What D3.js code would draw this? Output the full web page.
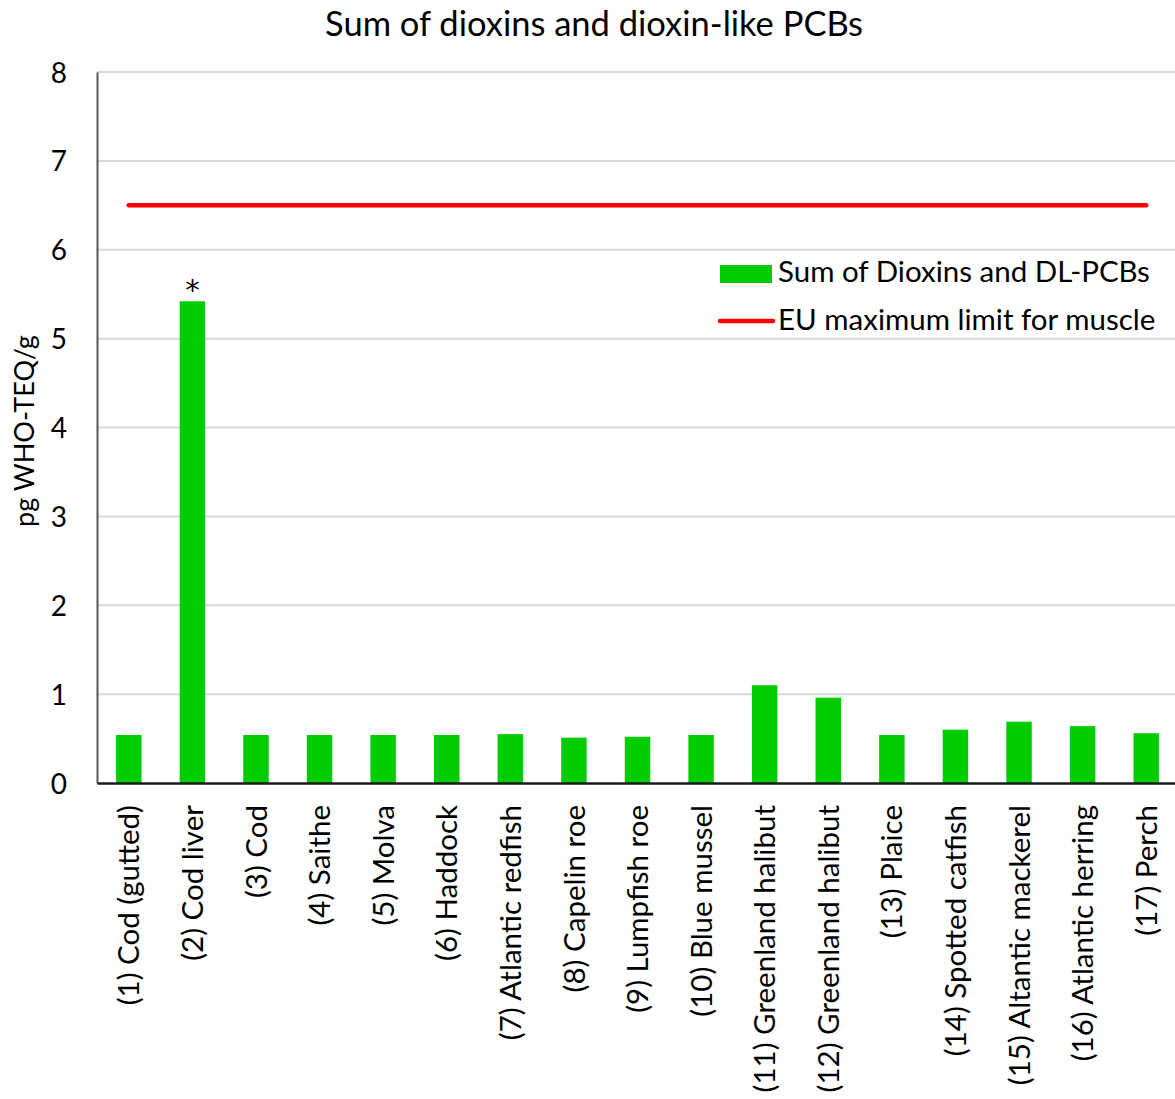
<!DOCTYPE html>
<html>
<head>
<meta charset="utf-8">
<script src="https://cdn.jsdelivr.net/npm/d3@7"></script>
<style>
  html, body { margin: 0; padding: 0; background: #fff; }
  svg { display: block; font-family: Lato, "Open Sans", sans-serif; }
</style>
</head>
<body>
<svg id="chart" width="1175" height="1099"></svg>
<script>
// Fish and seafood samples, in display order
const categories = [
  "(1) Cod (gutted)", "(2) Cod liver", "(3) Cod", "(4) Saithe", "(5) Molva",
  "(6) Haddock", "(7) Atlantic redfish", "(8) Capelin roe", "(9) Lumpfish roe",
  "(10) Blue mussel", "(11) Greenland halibut", "(12) Greenland halibut",
  "(13) Plaice", "(14) Spotted catfish", "(15) Altantic mackerel",
  "(16) Atlantic herring", "(17) Perch"
];
// Sum of dioxins and DL-PCBs, pg WHO-TEQ/g
const sumValues = [0.54, 5.42, 0.54, 0.54, 0.54, 0.54, 0.55, 0.51, 0.52,
                   0.54, 1.10, 0.96, 0.54, 0.60, 0.69, 0.64, 0.56];
// EU maximum limit for muscle meat of fish
const euLimit = 6.5;
const yTicks = [0, 1, 2, 3, 4, 5, 6, 7, 8];
const starred = ["(2) Cod liver"];
const seriesNames = ["Sum of Dioxins and DL-PCBs", "EU maximum limit for muscle"];

const FONT = "Lato, 'Open Sans', sans-serif";
const svg = d3.select("#chart");
const margin = { left: 97, right: -3, top: 72, bottom: 316 };
const W = 1175, H = 1099;

const x = d3.scaleBand()
  .domain(categories)
  .range([margin.left, W - margin.right])
  .paddingInner(0.6)
  .paddingOuter(0.3);

const y = d3.scaleLinear()
  .domain([0, 8])
  .range([H - margin.bottom, margin.top]);

// horizontal gridlines
svg.append("g")
  .selectAll("line")
  .data(yTicks.filter(d => d > 0))
  .join("line")
  .attr("x1", margin.left).attr("x2", W)
  .attr("y1", d => y(d)).attr("y2", d => y(d))
  .attr("stroke", "#d9d9d9").attr("stroke-width", 2);

// y axis
const yAxis = svg.append("g")
  .attr("transform", `translate(${margin.left},0)`)
  .call(d3.axisLeft(y).tickValues(yTicks).tickSize(0).tickPadding(30))
  .attr("font-family", FONT);
yAxis.select(".domain").attr("stroke", "#595959").attr("stroke-width", 2);
yAxis.selectAll("text")
  .attr("fill", "#000")
  .style("font-size", "28px")
  .attr("dy", "0.36em");

// bars
svg.append("g")
  .selectAll("rect")
  .data(categories.map((c, i) => ({ c, v: sumValues[i] })))
  .join("rect")
  .attr("x", d => x(d.c))
  .attr("width", x.bandwidth())
  .attr("y", d => y(d.v))
  .attr("height", d => y(0) - y(d.v))
  .attr("fill", "#00cc00");

// asterisk marking
svg.append("g")
  .selectAll("text")
  .data(starred)
  .join("text")
  .attr("x", d => x(d) + x.bandwidth() / 2)
  .attr("y", d => y(sumValues[categories.indexOf(d)]) - 1)
  .attr("text-anchor", "middle")
  .style("font-family", "'DejaVu Sans', sans-serif")
  .style("font-size", "29px")
  .text("*");

// x axis
const xAxis = svg.append("g")
  .attr("transform", `translate(0,${y(0)})`)
  .call(d3.axisBottom(x).tickSize(0).tickPadding(0))
  .attr("font-family", FONT);
xAxis.select(".domain").attr("stroke", "#1a1a1a").attr("stroke-width", 2.5);
xAxis.selectAll("text")
  .attr("fill", "#000")
  .style("font-size", "29.5px")
  .attr("text-anchor", "end")
  .attr("transform", "rotate(-90)")
  .attr("x", -22)
  .attr("y", 0)
  .attr("dy", "0.36em");

// EU limit line spanning the first to last category
const lineGen = d3.line().x(d => x(d) + x.bandwidth() / 2).y(() => y(euLimit));
svg.append("path")
  .datum([categories[0], categories[categories.length - 1]])
  .attr("d", lineGen)
  .attr("stroke", "#ff0000")
  .attr("stroke-width", 4.5)
  .attr("stroke-linecap", "round")
  .attr("fill", "none");

// title
svg.append("text")
  .attr("x", 594).attr("y", 36)
  .attr("text-anchor", "middle")
  .style("font-size", "34.5px")
  .text("Sum of dioxins and dioxin-like PCBs");

// y axis title
svg.append("text")
  .attr("transform", `translate(34,431) rotate(-90)`)
  .attr("text-anchor", "middle")
  .style("font-size", "27px")
  .text("pg WHO-TEQ/g");

// legend
const legend = svg.append("g").attr("transform", "translate(720,0)");
legend.append("rect")
  .attr("x", 0).attr("y", 265).attr("width", 52).attr("height", 18)
  .attr("fill", "#00cc00");
legend.append("line")
  .attr("x1", 0).attr("x2", 53).attr("y1", 321).attr("y2", 321)
  .attr("stroke", "#ff0000").attr("stroke-width", 4.5).attr("stroke-linecap", "round");
legend.selectAll("text.lbl")
  .data(seriesNames)
  .join("text")
  .attr("class", "lbl")
  .attr("x", 58)
  .attr("y", (d, i) => 282 + i * 48)
  .style("font-size", "29.5px")
  .text(d => d);
</script>
</body>
</html>
